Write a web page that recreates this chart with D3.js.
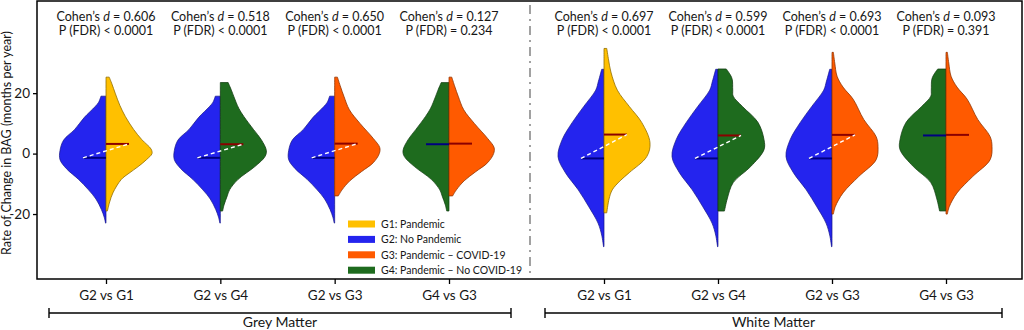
<!DOCTYPE html>
<html>
<head>
<meta charset="utf-8">
<script src="https://cdn.jsdelivr.net/npm/d3@7"></script>
<style>
  body { margin: 0; background: #fff; }
  svg { font-family: Lato, "Open Sans", sans-serif; }
  svg text { fill: #161616; }
</style>
</head>
<body>
<div id="chart"></div>
<script>
// ---- data ----
const tissues = ['Grey Matter', 'White Matter'];
const comparisons = ['G2 vs G1', 'G2 vs G4', 'G2 vs G3', 'G4 vs G3'];
const pairs = [['G2', 'G1'], ['G2', 'G4'], ['G2', 'G3'], ['G4', 'G3']];
const cohensD = [['0.606', '0.518', '0.650', '0.127'], ['0.697', '0.599', '0.693', '0.093']];
const pFdr = [['< 0.0001', '< 0.0001', '< 0.0001', '= 0.234'], ['< 0.0001', '< 0.0001', '< 0.0001', '= 0.391']];
const yTicks = [-20, 0, 20];

const groups = ['G1', 'G2', 'G3', 'G4'];
const groupLabels = ['G1: Pandemic', 'G2: No Pandemic', 'G3: Pandemic \u2013 COVID-19', 'G4: Pandemic \u2013 No COVID-19'];
const groupColors = ['#ffc000', '#2424ee', '#ff5a00', '#1e6b1e'];

// medians (months per year)
const greyMedians = {G1: 3.2, G2: -1.4, G3: 3.3, G4: 3.1};
const whiteMedians = {G1: 6.3, G2: -1.6, G3: 6.2, G4: 6.0};

// density profiles: [value, relative density]
const greyG1 = [[25.3,0.07],[23,0.13],[20,0.2],[16,0.3],[12.3,0.42],[8,0.6],[4.6,0.78],[1.5,0.98],[0,1.0],[-2,0.88],[-4.3,0.7],[-6.5,0.5],[-8.6,0.33],[-13,0.15],[-16,0.08],[-19,0.03]];
const greyG2 = [[19,0.11],[17,0.16],[15.5,0.24],[12,0.47],[8,0.68],[4.5,0.92],[1,1.0],[-2,1.0],[-5,0.86],[-8.5,0.6],[-12,0.38],[-15,0.22],[-18.5,0.1],[-21,0.04],[-23,0.01]];
const greyG3 = [[25.3,0.06],[22,0.13],[19,0.2],[14.5,0.32],[10,0.55],[5,0.84],[2,0.98],[0,0.97],[-3,0.84],[-6,0.58],[-9,0.33],[-12,0.16],[-14,0.08]];
const greyG4 = [[23.5,0.17],[21,0.24],[19,0.29],[15,0.4],[12.3,0.51],[8,0.72],[4.6,0.89],[1,1.0],[-1,0.97],[-4.3,0.75],[-8.6,0.38],[-12,0.2],[-14,0.15],[-17,0.08],[-19,0.05]];
const whiteG1 = [[34.8,0.06],[31,0.1],[27,0.15],[21,0.29],[15.6,0.55],[10.3,0.82],[3.6,1.0],[-1,0.93],[-6.3,0.55],[-9,0.35],[-12,0.18],[-15,0.11],[-19.6,0.06]];
const whiteG2 = [[27.9,0.05],[24,0.12],[21,0.18],[15.6,0.44],[10.3,0.69],[4.6,0.91],[-1,1.0],[-6.3,0.84],[-12,0.56],[-17.6,0.33],[-23,0.13],[-27,0.05],[-30.8,0.01]];
const whiteG3 = [[33.5,0.03],[30,0.06],[25.6,0.11],[22,0.24],[18,0.46],[11.3,0.69],[5.6,0.96],[2.3,1.0],[-2,0.96],[-7.6,0.58],[-13,0.24],[-17.6,0.07],[-20,0.03]];
const whiteG4 = [[28,0.18],[26,0.27],[24.5,0.31],[21,0.32],[19,0.33],[15.6,0.53],[10.3,0.87],[4.6,1.0],[1.3,1.0],[-4.3,0.71],[-9.6,0.33],[-15,0.2],[-19,0.14]];

const profiles = [
	{G1: greyG1, G2: greyG2, G3: greyG3, G4: greyG4},
	{G1: whiteG1, G2: whiteG2, G3: whiteG3, G4: whiteG4}
];
const medians = [greyMedians, whiteMedians];

// ---- layout ----
const width = 1024, height = 330;
const frame = {l: 37, t: 1, r: 1022, b: 279};

const svg = d3.select('#chart').append('svg')
	.attr('width', width)
	.attr('height', height);

const scaleY = d3.scaleLinear().domain([-41.5, 50.5]).range([frame.b, frame.t]);
const scaleW = d3.scaleLinear().domain([0, 1]).range([0, 46]);
const scaleX = [
	d3.scalePoint().domain(comparisons).range([106, 449]),
	d3.scalePoint().domain(comparisons).range([604, 946])
];
const color = d3.scaleOrdinal().domain(groups).range(groupColors);
const edge = g => d3.color(color(g)).darker(1.6);

//frame
svg.append('rect')
	.attr('x', frame.l).attr('y', frame.t)
	.attr('width', frame.r - frame.l).attr('height', frame.b - frame.t)
	.style('fill', 'none').style('stroke', '#000').style('stroke-width', 1.5);

//separator
svg.append('line')
	.attr('x1', 530).attr('x2', 530)
	.attr('y1', 5).attr('y2', frame.b - 4)
	.style('stroke', '#8a8a8a').style('stroke-width', 1.6)
	.style('stroke-dasharray', '9,5,2,5');

//y axis
const axisY = d3.axisLeft(scaleY).tickValues(yTicks).tickSize(4).tickFormat(d => String(d).replace('\u2212', '-'));
const gY = svg.append('g').attr('transform', `translate(${frame.l},0)`).call(axisY);
gY.select('.domain').remove();
gY.selectAll('.tick line').style('stroke', '#000').style('stroke-width', 1.3);
gY.selectAll('.tick text').style('font-size', '13.5px')
	.attr('font-family', 'Lato, sans-serif');

svg.append('text')
	.attr('transform', `translate(11,143) rotate(-90)`)
	.attr('text-anchor', 'middle')
	.style('font-size', '12.5px')
	.text('Rate of Change in BAG (months per year)');

//violins
const lineHalf = scaleW(0.5);

tissues.forEach((tissue, ti) => {
	const sx = scaleX[ti];
	const plot = svg.append('g').attr('class', 'tissue');

	//x axis
	const axisX = d3.axisBottom(sx).tickSize(5).tickSizeOuter(0);
	const gX = plot.append('g').attr('transform', `translate(0,${frame.b})`).call(axisX);
	gX.select('.domain').remove();
	gX.selectAll('.tick line').style('stroke', '#000').style('stroke-width', 1.3);
	gX.selectAll('.tick text').attr('y', 11).style('font-size', '13.5px')
		.attr('font-family', 'Lato, sans-serif');

	comparisons.forEach((c, ci) => {
		const cx = sx(c);
		const [gl, gr] = pairs[ci];
		const areaL = d3.area().curve(d3.curveCatmullRom.alpha(0.5))
			.y(d => scaleY(d[0])).x0(cx).x1(d => cx - scaleW(d[1]));
		const areaR = d3.area().curve(d3.curveCatmullRom.alpha(0.5))
			.y(d => scaleY(d[0])).x0(cx).x1(d => cx + scaleW(d[1]));

		plot.append('path').datum(profiles[ti][gl])
			.attr('d', areaL)
			.style('fill', color(gl)).style('stroke', edge(gl)).style('stroke-width', 0.7);
		plot.append('path').datum(profiles[ti][gr])
			.attr('d', areaR)
			.style('fill', color(gr)).style('stroke', edge(gr)).style('stroke-width', 0.8);

		const mL = scaleY(medians[ti][gl]);
		const mR = scaleY(medians[ti][gr]);
		plot.append('line')
			.attr('x1', cx - lineHalf).attr('x2', cx).attr('y1', mL).attr('y2', mL)
			.style('stroke', '#000080').style('stroke-width', 2);
		plot.append('line')
			.attr('x1', cx).attr('x2', cx + lineHalf).attr('y1', mR).attr('y2', mR)
			.style('stroke', '#8b0000').style('stroke-width', 2);
		if (Math.abs(mL - mR) > 2) {
			plot.append('line')
				.attr('x1', cx - lineHalf).attr('x2', cx + lineHalf).attr('y1', mL).attr('y2', mR)
				.style('stroke', '#fff').style('stroke-width', 1.4)
				.style('stroke-dasharray', '4,3');
		}

		//stats text
		const t1 = plot.append('text').attr('x', cx).attr('y', 21)
			.attr('text-anchor', 'middle').style('font-size', '12.5px');
		t1.append('tspan').text('Cohen\u2019s ');
		t1.append('tspan').style('font-style', 'italic').text('d');
		t1.append('tspan').text(' = ' + cohensD[ti][ci]);
		plot.append('text').attr('x', cx).attr('y', 35)
			.attr('text-anchor', 'middle').style('font-size', '12.5px')
			.text('P (FDR) ' + pFdr[ti][ci]);
	});
});

//group brackets
const brackets = [[49, 511], [545, 1002]];
tissues.forEach((t, i) => {
	const [a, b] = brackets[i];
	const g = svg.append('g').style('stroke', '#000').style('stroke-width', 1.4);
	g.append('line').attr('x1', a).attr('x2', b).attr('y1', 313).attr('y2', 313);
	g.append('line').attr('x1', a).attr('x2', a).attr('y1', 308).attr('y2', 318);
	g.append('line').attr('x1', b).attr('x2', b).attr('y1', 308).attr('y2', 318);
	svg.append('text').attr('x', (a + b) / 2).attr('y', 327)
		.attr('text-anchor', 'middle').style('font-size', '14px').text(t);
});

//legend
const legend = svg.append('g').attr('transform', 'translate(348,224)');
const items = legend.selectAll('.item').data(groups)
	.enter().append('g').attr('class', 'item')
	.attr('transform', (d, i) => `translate(0,${i * 15.4})`);
items.append('rect')
	.attr('x', 0).attr('y', -3.5).attr('width', 27).attr('height', 7)
	.style('fill', d => color(d));
items.append('text')
	.attr('x', 33).attr('y', 4)
	.style('font-size', '10.5px')
	.text((d, i) => groupLabels[i]);
</script>
</body>
</html>
